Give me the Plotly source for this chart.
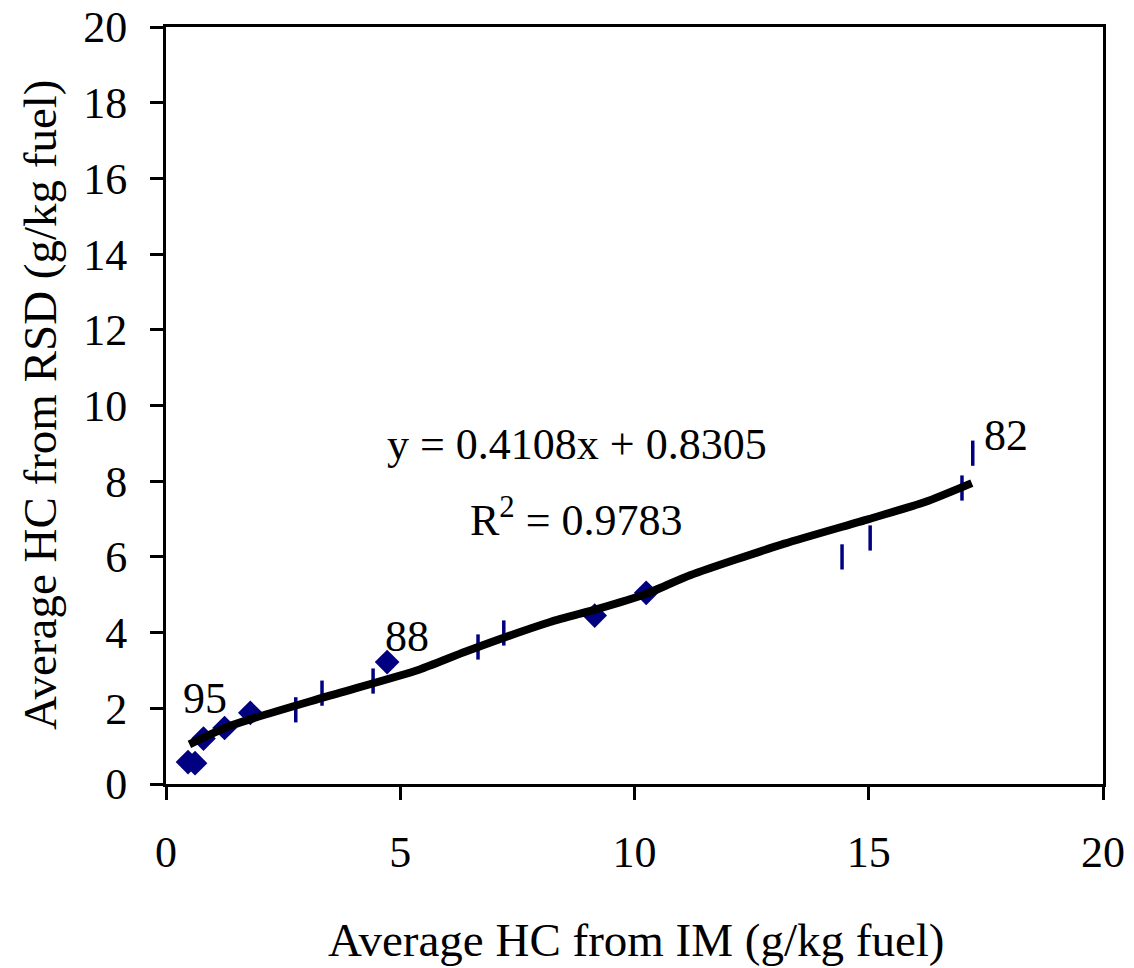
import plotly.graph_objects as go

# Vehicle groups plotted as diamonds
diamond_x = [0.47, 0.62, 0.80, 1.25, 1.80, 4.72, 9.15, 10.25]
diamond_y = [0.58, 0.55, 1.20, 1.48, 1.88, 3.22, 4.45, 5.05]

# Vehicle groups plotted as short vertical marks
dash_x = [2.77, 3.33, 4.42, 6.66, 7.21, 14.43, 15.03, 16.99, 17.22]
dash_y = [1.96, 2.40, 2.72, 3.62, 3.99, 6.00, 6.50, 7.82, 8.74]

# Trend curve
trend_x = [0.5, 1.4, 3.4, 5.4, 6.4, 8.2, 9.2, 10.2, 11.2, 13.2, 15.0, 16.2, 17.2]
trend_y = [1.05, 1.55, 2.30, 3.02, 3.50, 4.28, 4.62, 5.00, 5.52, 6.35, 7.00, 7.45, 7.95]

# Point labels (model years)
label_text = ["95", "88", "82"]
label_x = [0.83, 5.14, 17.93]
label_y = [2.25, 3.91, 9.22]

x_ticks = [0, 5, 10, 15, 20]
y_ticks = [0, 2, 4, 6, 8, 10, 12, 14, 16, 18, 20]

FONT = "Liberation Serif, Times New Roman, serif"
NAVY = "#000080"

fig = go.Figure()

fig.add_trace(go.Scatter(
    x=dash_x, y=dash_y, mode="markers",
    marker=dict(symbol="line-ns", size=18, color=NAVY,
                line=dict(color=NAVY, width=3.5)),
    showlegend=False, hoverinfo="x+y"))

fig.add_trace(go.Scatter(
    x=diamond_x, y=diamond_y, mode="markers",
    marker=dict(symbol="diamond", size=19, color=NAVY, line=dict(width=0)),
    showlegend=False, hoverinfo="x+y"))

fig.add_trace(go.Scatter(
    x=trend_x, y=trend_y, mode="lines",
    line=dict(color="black", width=8, shape="spline", smoothing=0.6),
    showlegend=False, hoverinfo="skip"))

for t, lx, ly in zip(label_text, label_x, label_y):
    fig.add_annotation(x=lx, y=ly, text=t, showarrow=False,
                       xanchor="center", yanchor="middle",
                       font=dict(family=FONT, size=44, color="black"))

fig.add_annotation(x=8.77, y=8.96, text="y = 0.4108x + 0.8305", showarrow=False,
                   xanchor="center", yanchor="middle",
                   font=dict(family=FONT, size=44, color="black"))
fig.add_annotation(x=8.77, y=7.05, text="R<sup>2</sup> = 0.9783", showarrow=False,
                   xanchor="center", yanchor="middle",
                   font=dict(family=FONT, size=44, color="black"))

# Axis titles
fig.add_annotation(xref="paper", yref="paper", x=0.5016, y=-0.206,
                   xanchor="center", yanchor="middle",
                   text="Average HC from IM (g/kg fuel)", showarrow=False,
                   font=dict(family=FONT, size=47, color="black"))
fig.add_annotation(xref="paper", yref="paper", x=-0.1345, y=0.5007,
                   xanchor="center", yanchor="middle",
                   text="Average HC from RSD (g/kg fuel)", showarrow=False,
                   textangle=-90,
                   font=dict(family=FONT, size=47, color="black"))

axis_common = dict(
    showgrid=False, zeroline=False, automargin=False,
    showline=True, linecolor="black", linewidth=3, mirror=True,
    ticks="outside", ticklen=13, tickwidth=3, tickcolor="black",
    tickfont=dict(family=FONT, size=44, color="black"),
)

fig.update_xaxes(range=[0, 20], tickvals=x_ticks, ticklabelstandoff=14, **axis_common)
fig.update_yaxes(range=[0, 20], tickvals=y_ticks, ticklabelstandoff=14, **axis_common)

fig.update_layout(
    template="none",
    width=1134, height=968,
    margin=dict(l=166, r=31, t=27, b=184, autoexpand=False),
    paper_bgcolor="white", plot_bgcolor="white",
    font=dict(family=FONT, color="black"),
)

fig.write_html("out.html")
